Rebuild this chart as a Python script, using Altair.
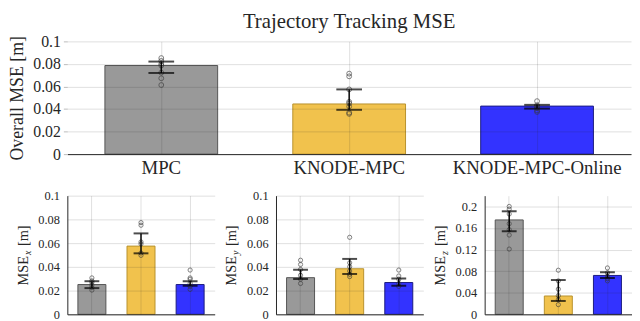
import altair as alt
import pandas as pd

FONT = "Liberation Serif"

categories = ["MPC", "KNODE-MPC", "KNODE-MPC-Online"]
bar_colors = ["#999999", "#f1c24d", "#3333ff"]
edge_colors = ["#555555", "#b8922e", "#1c1c80"]

# Overall MSE
overall_mean = [0.0786, 0.0445, 0.0426]
overall_lo = [0.0720, 0.0393, 0.0404]
overall_hi = [0.0821, 0.0574, 0.0437]
overall_pts = [
    [0.0852, 0.0827, 0.0800, 0.0786, 0.0723, 0.0673, 0.0613],
    [0.0714, 0.0690, 0.0574, 0.0464, 0.0450, 0.0423, 0.0368, 0.0357],
    [0.0470, 0.0434, 0.0420, 0.0407, 0.0387, 0.0374],
]

# MSE x
x_mean = [0.0251, 0.0575, 0.0251]
x_lo = [0.0221, 0.0514, 0.0240]
x_hi = [0.0279, 0.0682, 0.0279]
x_pts = [
    [0.0307, 0.0282, 0.0268, 0.0246, 0.0227, 0.0204],
    [0.0773, 0.0751, 0.0610, 0.0594, 0.0517, 0.0497],
    [0.0373, 0.0307, 0.0296, 0.0262, 0.0235, 0.0210],
]

# MSE y
y_mean = [0.0309, 0.0384, 0.0268]
y_lo = [0.0298, 0.0340, 0.0240]
y_hi = [0.0376, 0.0467, 0.0301]
y_pts = [
    [0.0456, 0.0420, 0.0378, 0.0329, 0.0296, 0.0260],
    [0.0649, 0.0434, 0.0401, 0.0365, 0.0337, 0.0318],
    [0.0373, 0.0323, 0.0296, 0.0260, 0.0235],
]

# MSE z
z_mean = [0.175, 0.034, 0.0721]
z_lo = [0.154, 0.0248, 0.0673]
z_hi = [0.191, 0.0636, 0.0782]
z_pts = [
    [0.200, 0.195, 0.186, 0.168, 0.157, 0.147, 0.121],
    [0.0818, 0.062, 0.0467, 0.0345, 0.027, 0.018],
    [0.086, 0.077, 0.071, 0.066, 0.062],
]

top_ticks = [0, 0.02, 0.04, 0.06, 0.08, 0.1]
xy_ticks = [0, 0.02, 0.04, 0.06, 0.08, 0.1]
z_ticks = [0, 0.04, 0.08, 0.12, 0.16, 0.2]

GRID = dict(grid=True, gridColor="#262626", gridOpacity=0.15, zindex=1)


def panel(mean, lo, hi, pts, w, h, ymax, ticks, top, sub=None):
    bdf = pd.DataFrame({"cat": categories, "mean": mean, "lo": lo, "hi": hi})
    pdf = pd.DataFrame(
        [{"cat": c, "v": v} for c, vs in zip(categories, pts) for v in vs]
    )
    if top:
        xaxis = alt.Axis(
            title=None, labelAngle=0, labelFont=FONT, labelFontSize=19,
            labelColor="#262626", labelPadding=5, ticks=False,
            domainColor="#262626", bandPosition=0.5, **GRID,
        )
        yaxis = alt.Axis(
            title="Overall MSE [m]", titleFont=FONT, titleFontSize=18,
            titleFontWeight="normal", titleColor="#262626", titlePadding=6,
            values=ticks, tickCount=len(ticks), format=".2~f", labelFont=FONT,
            labelFontSize=16, labelColor="#262626", labelPadding=3,
            labelOverlap=False, domain=False, tickColor="#bbbbbb", tickSize=4,
            **GRID,
        )
        frac, cap, psize = 0.6, 26, 24
    else:
        xaxis = alt.Axis(
            title=None, labels=False, ticks=False, domainColor="#262626",
            bandPosition=0.5, **GRID,
        )
        yaxis = alt.Axis(
            title=None, values=ticks, tickCount=len(ticks), format=".2~f",
            labelFont=FONT, labelFontSize=12.5, labelColor="#262626",
            labelPadding=8, labelOverlap=False, ticks=False,
            domainColor="#262626", **GRID,
        )
        frac, cap, psize = 0.57, 15, 18

    xenc = alt.X(
        "cat:N", sort=categories,
        scale=alt.Scale(domain=categories, paddingInner=0, paddingOuter=0),
        axis=xaxis,
    )
    yscale = alt.Scale(domain=[0, ymax], nice=False, zero=True)

    def yq(field):
        return alt.Y(field, scale=yscale, axis=yaxis)

    base = alt.Chart(bdf)
    bars = base.mark_bar(width=alt.RelativeBandSize(frac), strokeWidth=1).encode(
        x=xenc,
        y=yq("mean:Q"),
        fill=alt.Fill("cat:N", scale=alt.Scale(domain=categories, range=bar_colors), legend=None),
        stroke=alt.Stroke("cat:N", scale=alt.Scale(domain=categories, range=edge_colors), legend=None),
    )
    points = alt.Chart(pdf).mark_point(
        shape="circle", filled=False, size=psize, color="#3a3a3a", strokeWidth=0.9
    ).encode(x=xenc, y=yq("v:Q"))
    rule = base.mark_rule(color="black", strokeWidth=1.5).encode(
        x=xenc, y=yq("lo:Q"), y2="hi:Q"
    )
    cap_lo = base.mark_tick(color="black", thickness=2, size=cap).encode(
        x=xenc, y=yq("lo:Q")
    )
    cap_hi = base.mark_tick(color="black", thickness=2, size=cap).encode(
        x=xenc, y=yq("hi:Q")
    )
    layers = [bars, points, rule, cap_lo, cap_hi]

    if sub is not None:
        A = h / 2 + 1
        tx = -40
        t1 = alt.Chart(pd.DataFrame({"t": ["MSE"]})).mark_text(
            angle=270, align="right", baseline="alphabetic", font=FONT,
            fontSize=14.5, color="#262626",
        ).encode(text="t:N", x=alt.value(tx), y=alt.value(A))
        t2 = alt.Chart(pd.DataFrame({"t": [sub]})).mark_text(
            angle=270, align="left", baseline="alphabetic", font=FONT,
            fontSize=10, fontStyle="italic", color="#262626",
        ).encode(text="t:N", x=alt.value(tx + 3), y=alt.value(A - 1))
        t3 = alt.Chart(pd.DataFrame({"t": ["[m]"]})).mark_text(
            angle=270, align="left", baseline="alphabetic", font=FONT,
            fontSize=14.5, color="#262626",
        ).encode(text="t:N", x=alt.value(tx), y=alt.value(A - 10))
        layers += [t1, t2, t3]

    return alt.layer(*layers).properties(width=w, height=h)


top = panel(overall_mean, overall_lo, overall_hi, overall_pts, 570, 114, 0.1,
            top_ticks, True).properties(
    title=alt.Title("Trajectory Tracking MSE", font=FONT, fontSize=21,
                    fontWeight="normal", color="#262626", offset=2)
)

px = panel(x_mean, x_lo, x_hi, x_pts, 149, 120, 0.1, xy_ticks, False, "x")
py = panel(y_mean, y_lo, y_hi, y_pts, 149, 120, 0.1, xy_ticks, False, "y")
pz = panel(z_mean, z_lo, z_hi, z_pts, 149, 120, 0.22, z_ticks, False, "z")

bottom = alt.hconcat(px, py, pz, spacing=10)

chart = alt.vconcat(top, bottom, spacing=12).configure_view(stroke=None).properties(
    padding={"left": 0, "top": 1, "right": 0, "bottom": 0}
)

chart.save("out.html", embed_options={"renderer": "svg", "actions": False})
